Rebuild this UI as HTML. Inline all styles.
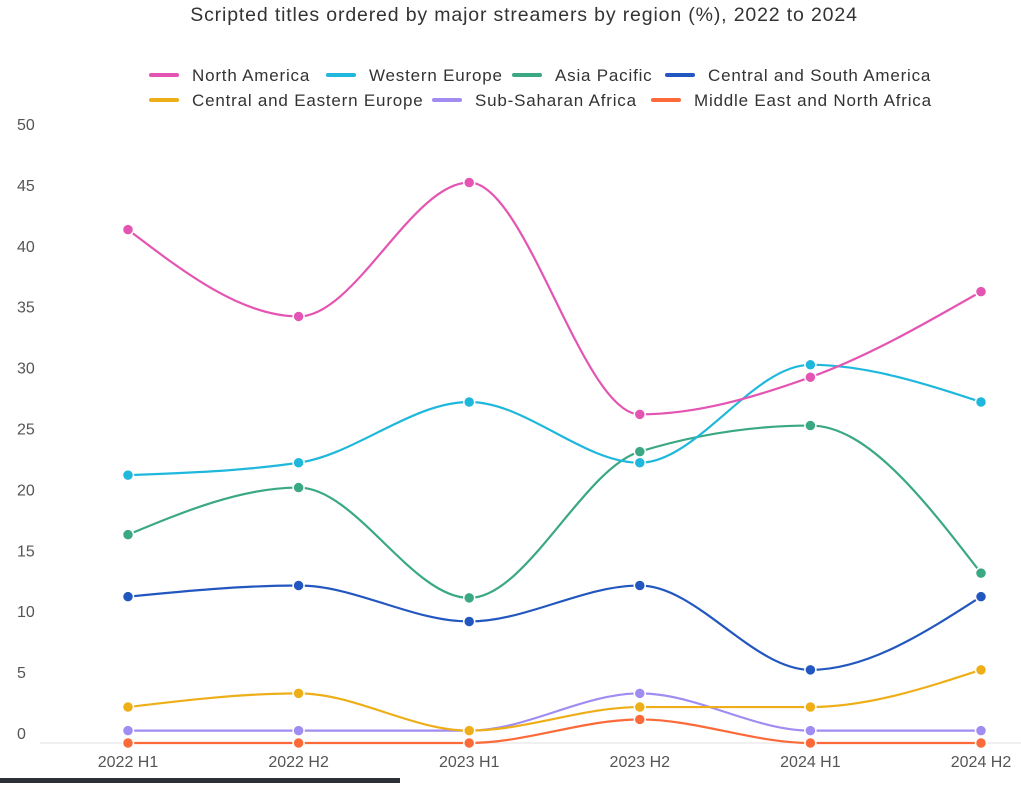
<!DOCTYPE html>
<html><head><meta charset="utf-8">
<style>
body{margin:0;background:#fff;font-family:"Liberation Sans",Arial,sans-serif;}
svg text{font-family:"Liberation Sans",Arial,sans-serif;}
</style></head>
<body>
<svg id="chart" width="1021" height="783" viewBox="0 0 1021 783" xmlns="http://www.w3.org/2000/svg">
<rect width="1021" height="783" fill="#fff"/>
<text x="524" y="21" text-anchor="middle" font-size="19.5" letter-spacing="0.85" fill="#333">Scripted titles ordered by major streamers by region (%), 2022 to 2024</text>
<g id="legend"></g>
<g id="axes"></g>
<g id="series"></g>
<rect x="0" y="778" width="400" height="5" fill="#2b2f36"/>
</svg>
<script>
const categories=["2022 H1","2022 H2","2023 H1","2023 H2","2024 H1","2024 H2"];
const yTicks=[0,5,10,15,20,25,30,35,40,45,50];
const seriesNames=["North America","Western Europe","Asia Pacific","Central and South America","Central and Eastern Europe","Sub-Saharan Africa","Middle East and North Africa"];
const seriesColors=["#e455b3","#1fb8dc","#3aa883","#2357c0","#eeae17","#a18cf1","#fb6a38"];
const northAmerica=[41.4,34.4,45.2,26.5,29.5,36.4];
const westernEurope=[21.6,22.6,27.5,22.6,30.5,27.5];
const asiaPacific=[16.8,20.6,11.7,23.5,25.6,13.7];
const centralSouthAmerica=[11.8,12.7,9.8,12.7,5.9,11.8];
const centralEasternEurope=[2.9,4.0,1.0,2.9,2.9,5.9];
const subSaharanAfrica=[1.0,1.0,1.0,4.0,1.0,1.0];
const menaValues=[0,0,0,1.9,0,0];
const allSeries=[northAmerica,westernEurope,asiaPacific,centralSouthAmerica,centralEasternEurope,subSaharanAfrica,menaValues];

const NS="http://www.w3.org/2000/svg";
const x0=128,x1=981,y0=743,yTop=123;
function xScale(i){return x0+(x1-x0)*i/(categories.length-1);}
function yScale(v){return y0-(y0-yTop)*v/50;}
function yLabelScale(v){return 739-609*v/50;}
function mk(tag,attrs,parent){const e=document.createElementNS(NS,tag);for(const k in attrs)e.setAttribute(k,attrs[k]);parent.appendChild(e);return e;}

const axes=document.getElementById('axes');
const base=mk('line',{x1:40,x2:1021,y1:y0,y2:y0,stroke:'#e0e0e0','stroke-width':1},axes);


yTicks.forEach(t=>{
  const tx=mk('text',{x:17,y:yLabelScale(t),'font-size':16,fill:'#555'},axes);
  tx.textContent=t;
  
  
});
categories.forEach((c,i)=>{
  const tx=mk('text',{x:xScale(i),y:767,'font-size':16,fill:'#555','text-anchor':'middle'},axes);
  tx.textContent=c;
  
  
});

const legend=document.getElementById('legend');
const legendPos=[[151,75],[328,75],[514,75],[667,75],[151,100],[434,100],[653,100]];
seriesNames.forEach((n,i)=>{
  const g=mk('g',{},legend);
  
  
  const [lx,ly]=legendPos[i];
  mk('line',{x1:lx,x2:lx+26,y1:ly,y2:ly,stroke:seriesColors[i],'stroke-width':4,'stroke-linecap':'round'},g);
  const t=mk('text',{x:lx+41,y:ly+6,'font-size':17,'letter-spacing':0.8,fill:'#333'},g);
  t.textContent=n;
});

function monotonePath(pts){
  const n=pts.length;const d=[],m=[];
  for(let i=0;i<n-1;i++)d.push((pts[i+1][1]-pts[i][1])/(pts[i+1][0]-pts[i][0]));
  m[0]=d[0];m[n-1]=d[n-2];
  for(let i=1;i<n-1;i++){
    if(d[i-1]*d[i]<=0)m[i]=0;
    else{const h0=pts[i][0]-pts[i-1][0],h1=pts[i+1][0]-pts[i][0];
      const p=(d[i-1]*h1+d[i]*h0)/(h0+h1);
      m[i]=(Math.sign(d[i-1])+Math.sign(d[i]))*Math.min(Math.abs(d[i-1]),Math.abs(d[i]),0.5*Math.abs(p));}
  }
  m[0]=(3*d[0]-m[1])/2; m[n-1]=(3*d[n-2]-m[n-2])/2;
  let s='M'+pts[0][0]+','+pts[0][1];
  for(let i=0;i<n-1;i++){
    const h=(pts[i+1][0]-pts[i][0])/3;
    s+=' C'+(pts[i][0]+h)+','+(pts[i][1]+h*m[i])+' '+(pts[i+1][0]-h)+','+(pts[i+1][1]-h*m[i+1])+' '+pts[i+1][0]+','+pts[i+1][1];
  }
  return s;
}
const sg=document.getElementById('series');
for(let s=allSeries.length-1;s>=0;s--){
  const vals=allSeries[s];
  const g=mk('g',{},sg);
  
  
  const pts=vals.map((v,i)=>[xScale(i),yScale(v)]);
  const p=mk('path',{d:monotonePath(pts),fill:'none',stroke:seriesColors[s],'stroke-width':2.2},g);
  
  
  pts.forEach(pt=>{
    const c=mk('circle',{cx:pt[0],cy:pt[1],r:5.5,fill:seriesColors[s],stroke:'#fff','stroke-width':1.5},g);
    
    
  });
}
</script>
</body></html>
